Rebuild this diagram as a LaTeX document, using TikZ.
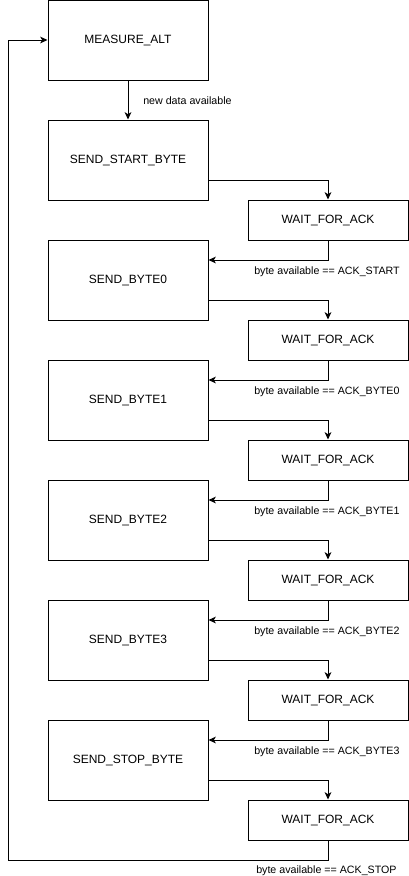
\documentclass[tikz,border=0pt]{standalone}
\usepackage{fontspec}
\setmainfont{Liberation Sans}
\usetikzlibrary{arrows.meta}
\tikzset{
	state/.style={draw, line width=0.75pt, minimum width=120pt, minimum height=60pt, inner sep=0pt, font=\fontsize{9}{11}\selectfont},
	waitbox/.style={state, minimum height=30pt},
	trans/.style={line width=0.75pt, -{Stealth[length=5.5pt, width=5pt, inset=1.5pt]}},
	cond/.style={anchor=west, inner sep=0pt, font=\fontsize{8}{10}\selectfont}
}

\begin{document}
\begin{tikzpicture}[x=0.75pt, y=-0.75pt]
		%%%%% START %%%%%
		\useasboundingbox (0,0) rectangle (408,876);
		
		\node[state] (measure) at (128, 40) {MEASURE\_ALT};
		\node[state] (sstart) at (128, 160) {SEND\_START\_BYTE};
		\node[state] (sb0) at (128, 280) {SEND\_BYTE0};
		\node[state] (sb1) at (128, 400) {SEND\_BYTE1};
		\node[state] (sb2) at (128, 520) {SEND\_BYTE2};
		\node[state] (sb3) at (128, 640) {SEND\_BYTE3};
		\node[state] (sstop) at (128, 760) {SEND\_STOP\_BYTE};
		
		\node[waitbox] (w0) at (328, 220) {WAIT\_FOR\_ACK};
		\node[waitbox] (w1) at (328, 340) {WAIT\_FOR\_ACK};
		\node[waitbox] (w2) at (328, 460) {WAIT\_FOR\_ACK};
		\node[waitbox] (w3) at (328, 580) {WAIT\_FOR\_ACK};
		\node[waitbox] (w4) at (328, 700) {WAIT\_FOR\_ACK};
		\node[waitbox] (w5) at (328, 820) {WAIT\_FOR\_ACK};
		
		\draw[trans] (measure.south) -- (sstart.north);
		\node[cond] (c0) at (143, 101) {new data available};
		
		\draw[trans] ([yshift=-15pt]sstart.east) -| (w0.north);
		\draw[trans] (w0.south) |- ([yshift=15pt]sb0.east);
		\node[cond] (c1) at (254, 272) {byte available == ACK\_START};
		
		\draw[trans] ([yshift=-15pt]sb0.east) -| (w1.north);
		\draw[trans] (w1.south) |- ([yshift=15pt]sb1.east);
		\node[cond] (c2) at (254, 392) {byte available == ACK\_BYTE0};
		
		\draw[trans] ([yshift=-15pt]sb1.east) -| (w2.north);
		\draw[trans] (w2.south) |- ([yshift=15pt]sb2.east);
		\node[cond] (c3) at (254, 512) {byte available == ACK\_BYTE1};
		
		\draw[trans] ([yshift=-15pt]sb2.east) -| (w3.north);
		\draw[trans] (w3.south) |- ([yshift=15pt]sb3.east);
		\node[cond] (c4) at (254, 632) {byte available == ACK\_BYTE2};
		
		\draw[trans] ([yshift=-15pt]sb3.east) -| (w4.north);
		\draw[trans] (w4.south) |- ([yshift=15pt]sstop.east);
		\node[cond] (c5) at (254, 752) {byte available == ACK\_BYTE3};
		
		\draw[trans] ([yshift=-15pt]sstop.east) -| (w5.north);
		\coordinate (back) at (8, 860);
		\draw[trans] (w5.south) |- (back) |- (measure.west);
		\node[cond] (c6) at (256, 871) {byte available == ACK\_STOP};
		%%%%% END %%%%%
\end{tikzpicture}
\end{document}
